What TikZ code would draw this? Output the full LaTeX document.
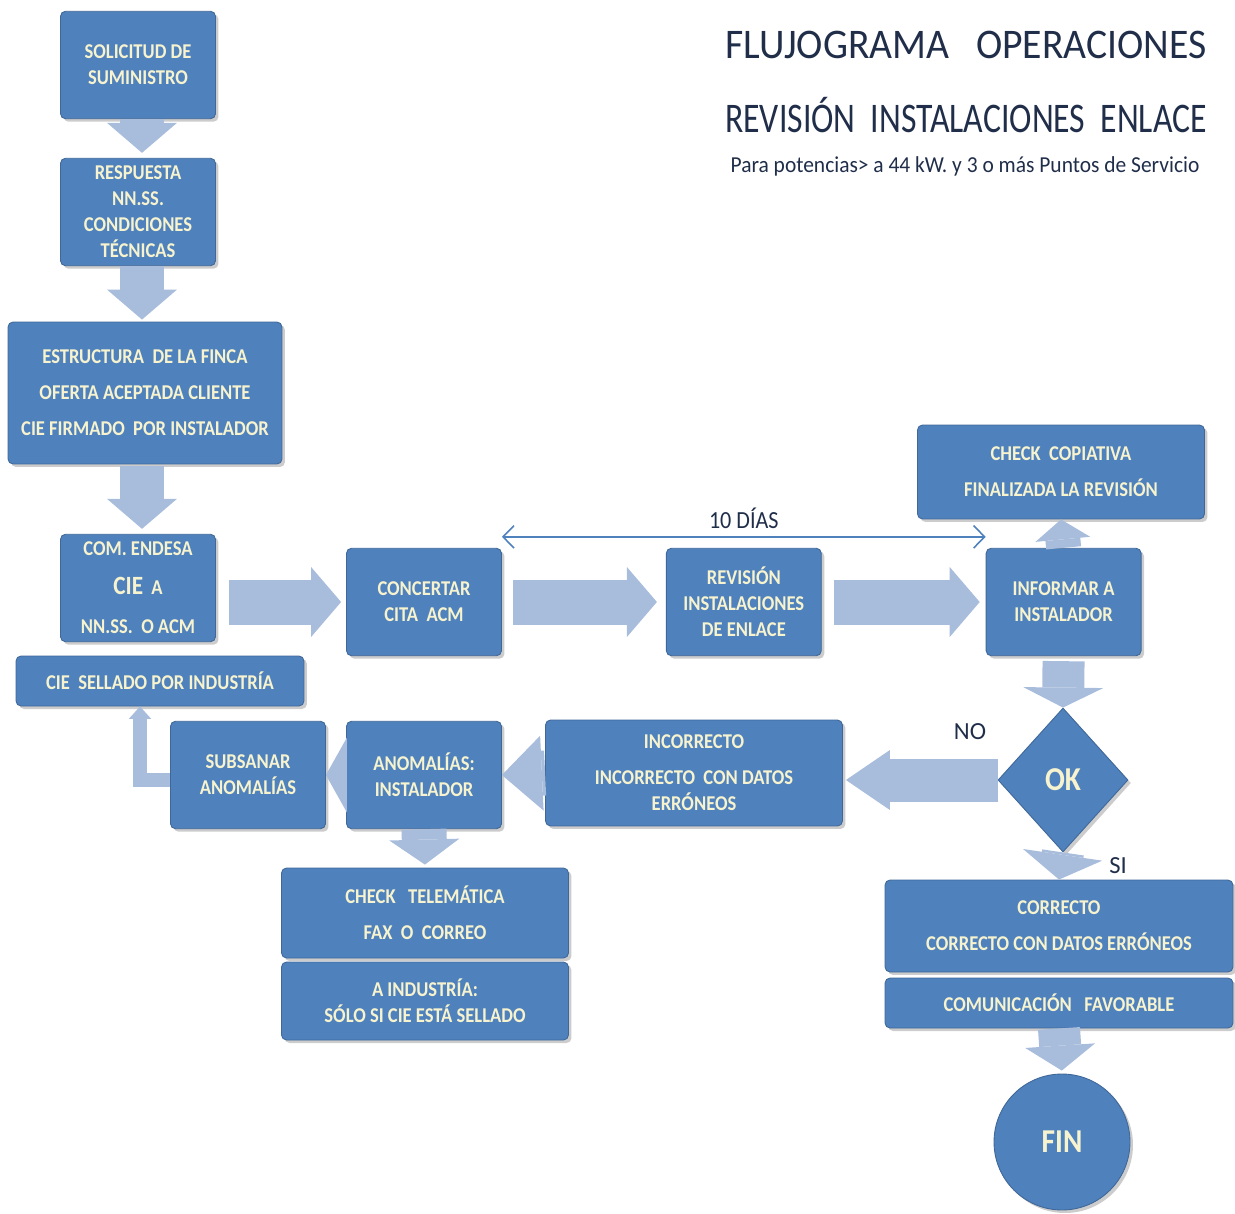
\documentclass[tikz,border=0pt]{standalone}
\usepackage{fontspec}
\usepackage{graphicx}
\setmainfont{Carlito}
\newfontfamily\cajafont{Carlito}[FakeStretch=0.88]
\usepackage{tikz}
\usetikzlibrary{positioning, arrows.meta, shapes.geometric, shadows}
\usepackage{xcolor}

\definecolor{cajaazul}{RGB}{79,129,189}
\definecolor{flechaazul}{RGB}{168,188,220}
\definecolor{textocrema}{RGB}{246,243,206}
\definecolor{titulo}{RGB}{32,46,74}

\begin{document}
\begin{tikzpicture}[x=0.02cm, y=-0.02cm, node distance=3.28cm,
    caja/.style={draw=cajaazul!80!black, line width=0.5pt, fill=cajaazul,
        rounded corners=0.1cm, inner sep=2pt, minimum width=3.1cm, minimum height=2.15cm,
        align=center, text=textocrema, font=\cajafont\bfseries\fontsize{12}{14.8}\selectfont,
        drop shadow={shadow xshift=0.06cm, shadow yshift=-0.06cm, opacity=0.4}},
    flecha/.style={draw=flechaazul, line width=0.9cm,
        -{Triangle[length=0.6cm, width=1.4cm, line width=0pt]}},
    flechita/.style={draw=flechaazul, line width=0.27cm,
        -{Triangle[length=0.25cm, width=0.45cm, line width=0pt]}},
    etiqueta/.style={text=titulo, font=\fontsize{14}{16}\selectfont}]

        \useasboundingbox (0,0) rectangle (1235,1214);
        \coordinate (eje) at (142,0);

        % --- Titulo ---
        \node[etiqueta, font=\fontsize{24}{28}\selectfont] (t1) at (966,45)
            {\scalebox{0.94}[1]{FLUJOGRAMA\ \ \ OPERACIONES}};
        \node[etiqueta, font=\fontsize{24}{28}\selectfont] (t2) at (966,115)
            {\scalebox{0.8}[1]{REVISIÓN\ \ INSTALACIONES\ \ ENLACE}};
        \node[etiqueta, font=\fontsize{13}{15}\selectfont] (t3) at (965,166)
            {\scalebox{0.94}[1]{Para\ potencias> a 44 kW. y 3 o más Puntos de Servicio}};

        % --- Columna izquierda ---
        \node[caja] (sol) at (138,65) {SOLICITUD DE\\SUMINISTRO};
        \node[caja] (resp) at (138,212) {RESPUESTA\\NN.SS.\\CONDICIONES\\TÉCNICAS};
        \node[caja, minimum width=5.48cm, minimum height=2.84cm] (estr) at (145,393)
            {ESTRUCTURA\ \ DE LA FINCA\\[0.2cm]OFERTA ACEPTADA CLIENTE\\[0.2cm]CIE FIRMADO\ \ POR INSTALADOR};
        \node[caja] (com) at (138,588)
            {COM. ENDESA\\[0.26cm]{\fontsize{15}{16}\selectfont CIE}\ \ A\\[0.26cm]NN.SS.\ \ O ACM};
        \node[caja, minimum width=5.76cm, minimum height=1cm] (cie) at (160,681) {CIE\ \ SELLADO POR INDUSTRÍA};

        % --- Fila central ---
        \node[caja] (conc) at (424,602) {CONCERTAR\\CITA\ \ ACM};
        \node[caja, right=of conc] (rev) {REVISIÓN\\INSTALACIONES\\DE ENLACE};
        \node[caja, right=of rev] (inf) {INFORMAR A\\INSTALADOR};
        \node[caja, minimum width=5.74cm, minimum height=1.88cm] (copia) at (1061,472)
            {CHECK\ \ COPIATIVA\\[0.2cm]FINALIZADA LA REVISIÓN};

        % --- Decision ---
        \node[caja, diamond, rounded corners=0pt, minimum width=2.6cm, minimum height=2.88cm,
            inner sep=0pt, font=\cajafont\bfseries\fontsize{19}{20}\selectfont] (ok) at (1063,780) {OK};

        % --- Rama incorrecta ---
        \node[caja, minimum width=5.94cm, minimum height=2.12cm] (inc) at (694,773)
            {INCORRECTO\\[0.2cm]INCORRECTO\ \ CON\ DATOS\\ERRÓNEOS};
        \node[caja] (anom) at (424,775) {ANOMALÍAS:\\INSTALADOR};
        \node[caja] (sub) at (248,775) {SUBSANAR\\ANOMALÍAS};
        \node[caja, minimum width=5.74cm, minimum height=1.8cm] (tele) at (425,913)
            {CHECK\ \ \ TELEMÁTICA\\[0.2cm]FAX\ \ O\ \ CORREO};
        \node[caja, minimum width=5.74cm, minimum height=1.56cm] (indu) at (425,1001)
            {A INDUSTRÍA:\\SÓLO SI CIE ESTÁ SELLADO};

        % --- Rama correcta ---
        \node[caja, minimum width=6.96cm, minimum height=1.84cm] (corr) at (1059,926)
            {CORRECTO\\[0.2cm]CORRECTO CON DATOS ERRÓNEOS};
        \node[caja, minimum width=6.96cm, minimum height=1cm] (fav) at (1059,1003)
            {COMUNICACIÓN\ \ \ FAVORABLE};
        \node[caja, circle, minimum size=2.72cm, inner sep=0pt,
            font=\cajafont\bfseries\fontsize{19}{20}\selectfont] (fin) at (1062,1142) {FIN};

        % --- Flechas ---
        \draw[flecha, shorten >=0.1cm] (sol.south -| eje) -- (resp.north -| eje);
        \draw[flecha, shorten >=0.04cm] (resp.south -| eje) -- (estr.north -| eje);
        \draw[flecha, shorten <=0.04cm, shorten >=0.1cm] (estr.south -| eje) -- (com.north -| eje);
        \draw[flecha, shorten <=0.26cm, shorten >=0.1cm] (com.east |- conc.west) -- (conc.west);
        \draw[flecha, shorten <=0.22cm, shorten >=0.18cm] (conc.east) -- (rev.west);
        \draw[flecha, shorten <=0.24cm, shorten >=0.12cm] (rev.east) -- (inf.west);
        \draw[flecha, line width=0.7cm, -{Triangle[length=0.4cm, width=1.1cm, line width=0pt]}]
            (inf.north) -- (copia.south);
        \draw[flecha, line width=0.84cm, -{Triangle[length=0.4cm, width=1.6cm, line width=0pt]},
            shorten <=0.1cm] (inf.south) -- (ok.north);
        \draw[flecha, line width=0.86cm, -{Triangle[length=0.88cm, width=1.2cm, line width=0pt]},
            shorten >=0.06cm] (ok.west) -- (ok.west -| inc.east);
        \draw[flecha, -{Triangle[length=0.8cm, width=1.5cm, line width=0pt]}] (inc.west) -- (anom.east);
        \draw[flecha, -{Triangle[length=0.42cm, width=1.5cm, line width=0pt]}] (anom.west) -- (sub.east);
        \draw[flecha, -{Triangle[length=0.5cm, width=1.4cm, line width=0pt]},
            shorten >=0.06cm] (anom.south) -- (tele.north);
        \draw[flecha, line width=0.84cm, -{Triangle[length=0.5cm, width=1.6cm, line width=0pt]}]
            (ok.south) -- (corr.north);
        \draw[flecha, line width=0.84cm, -{Triangle[length=0.5cm, width=1.4cm, line width=0pt]},
            shorten >=0.06cm] (fav.south) -- (fin.north);
        \draw[flechita] ([yshift=-0.1cm]sub.west) -| ([xshift=-0.4cm]cie.south);

        % --- Plazo ---
        \draw[{Straight Barb[length=0.22cm, width=0.45cm]}-{Straight Barb[length=0.22cm, width=0.45cm]},
            cajaazul, line width=0.9pt]
            ([yshift=0.22cm]conc.north east) -- node[etiqueta, above=1pt] (plazo) {\scalebox{0.9}[1]{10 DÍAS}}
            ([yshift=0.22cm]inf.north west);

        % --- Etiquetas ---
        \node[etiqueta] (no) at (970,732) {NO};
        \node[etiqueta] (si) at (1118,866) {SI};

    \end{tikzpicture}
\end{document}
